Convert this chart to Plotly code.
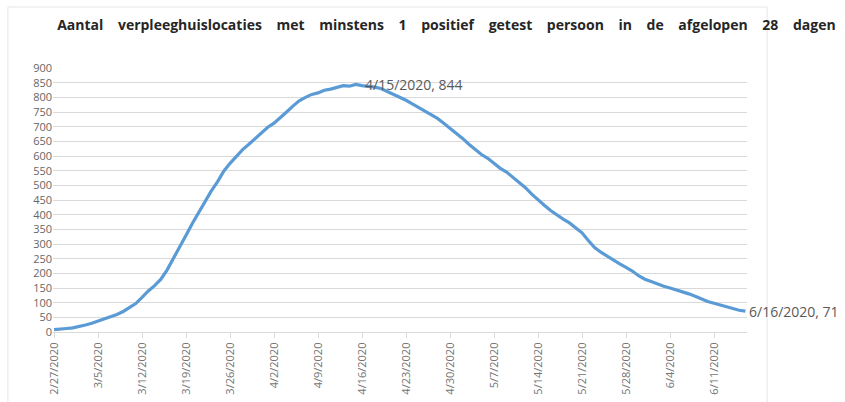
import pandas as pd
import plotly.graph_objects as go

start_date = "2020-02-27"
values = [8, 11, 12, 14, 18, 24, 30, 37, 44, 52,
          60, 70, 82, 97, 118, 140, 158, 180, 212, 250,
          290, 330, 370, 408, 445, 480, 512, 548, 575, 600,
          622, 640, 660, 680, 698, 712, 730, 750, 770, 788,
          800, 810, 815, 824, 828, 835, 840, 838, 844, 840,
          838, 835, 830, 820, 812, 800, 790, 778, 765, 755,
          742, 728, 712, 695, 678, 660, 640, 622, 605, 592,
          575, 558, 545, 528, 512, 492, 470, 450, 432, 414,
          398, 385, 372, 356, 338, 312, 288, 272, 258, 245,
          232, 220, 208, 192, 180, 172, 163, 156, 150, 144,
          138, 130, 122, 112, 104, 98, 92, 86, 80, 74, 71]
dates = pd.date_range(start_date, periods=len(values), freq="D")

tick_dates = dates[::7]
tick_labels = [f"{d.month}/{d.day}/{d.year}" for d in tick_dates]

title_words = ["Aantal", "verpleeghuislocaties", "met", "minstens", "1", "positief",
               "getest", "persoon", "in", "de", "afgelopen", "28", "dagen"]
gap = " \u00a0\u00a0\u2009\u200a"
title_text = gap.join(title_words)

peak_i = max(range(len(values)), key=lambda i: values[i])
last_i = len(values) - 1

def lbl(i):
    d = dates[i]
    return f"{d.month}/{d.day}/{d.year}, {values[i]}"

fig = go.Figure()
fig.add_trace(go.Scatter(x=dates, y=values, mode="lines",
                         line=dict(color="#5b9bd5", width=3.2),
                         hoverinfo="x+y", showlegend=False))

for i, sh in ((peak_i, 7), (last_i, 2)):
    fig.add_annotation(x=dates[i], y=values[i], text=lbl(i), showarrow=False,
                       xanchor="left", yanchor="middle", xshift=sh,
                       font=dict(family="Open Sans", size=14, color="#595959"))

fig.add_shape(type="rect", xref="paper", yref="paper",
              x0=-0.065, x1=1.029, y0=-0.4, y1=1.231,
              line=dict(color="#e6e6e6", width=1), layer="below")

fig.update_layout(
    width=845, height=402,
    margin=dict(l=53, r=98, t=68, b=70),
    paper_bgcolor="white", plot_bgcolor="white",
    title=dict(text="<b>" + title_text + "</b>", x=0.006, xref="paper",
               xanchor="left", y=0.938, yanchor="middle",
               font=dict(family="Open Sans", size=14, color="#262626")),
    xaxis=dict(range=[dates[0] - pd.Timedelta(hours=4), dates[-1] + pd.Timedelta(hours=6)],
               tickvals=tick_dates, ticktext=tick_labels, tickangle=-90,
               showgrid=False, showline=True, linecolor="#d9d9d9", linewidth=1.3,
               ticks="outside", ticklen=5, tickcolor="#d9d9d9",
               tickfont=dict(family="Open Sans", size=11, color="#737373"),
               automargin=False, zeroline=False),
    yaxis=dict(range=[0, 900], dtick=50, tick0=0,
               showgrid=True, gridcolor="#d9d9d9", gridwidth=1.3,
               zeroline=False, showline=False,
               tickfont=dict(family="Open Sans", size=11, color="#666666"),
               automargin=False),
)

fig.write_html("out.html", post_script="document.body.style.margin='0';",
               config={"displayModeBar": False})
